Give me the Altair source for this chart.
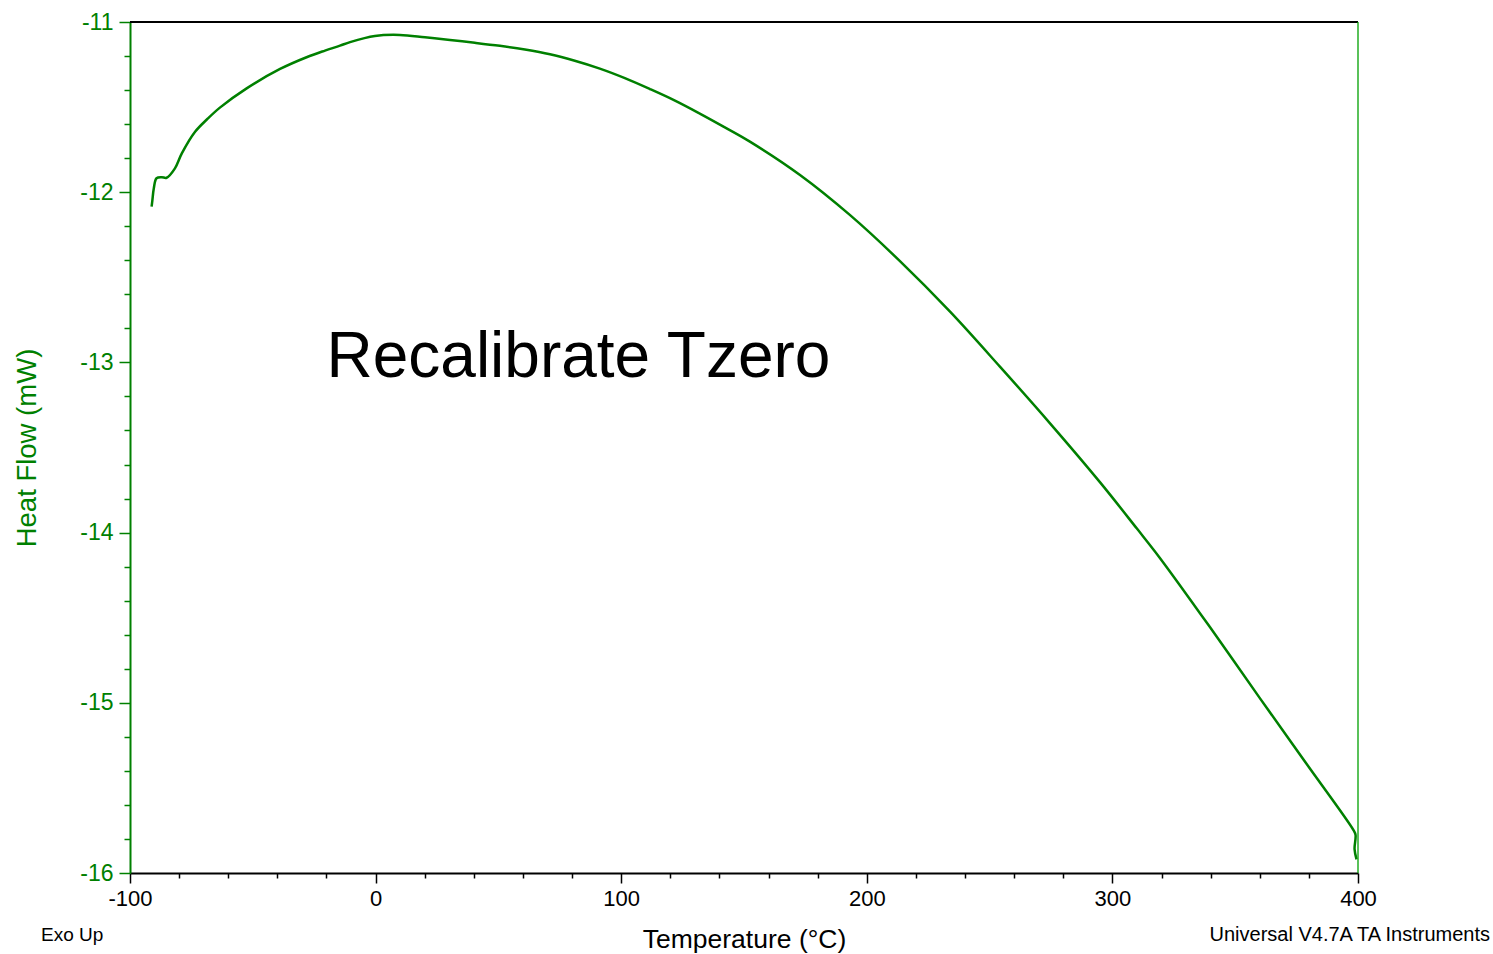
import altair as alt
import pandas as pd

# DSC heat-flow trace: temperature (°C) and heat flow (mW)
temperature = [
    -91.2, -90.9, -90.3, -89.2, -87.1, -85.1, -81.7, -78.9, -73.5, -68.5,
    -63.4, -52.5, -38.9, -28.1, -20.6, -14.5, -10.4, -0.3, 9.9, 20.1,
    30.3, 40.4, 50.6, 60.8, 71.0, 81.1, 91.3, 101.5, 111.7, 121.9,
    132.0, 142.2, 152.4, 172.8, 193.2, 213.5, 233.9, 254.2, 274.6, 295.0,
    309.9, 319.4, 339.7, 360.1, 379.1, 398.1, 399.0, 398.6, 399.4,
]
heat_flow = [
    -12.085, -12.05, -11.977, -11.918, -11.912, -11.915, -11.86, -11.772, -11.645, -11.57,
    -11.503, -11.39, -11.276, -11.207, -11.168, -11.139, -11.118, -11.082, -11.076, -11.090,
    -11.106, -11.122, -11.140, -11.162, -11.190, -11.228, -11.274, -11.330, -11.394, -11.462,
    -11.538, -11.619, -11.703, -11.899, -12.135, -12.405, -12.702, -13.025, -13.358, -13.705,
    -13.975, -14.15, -14.555, -14.974, -15.36, -15.747, -15.776, -15.86, -15.92,
]

x_ticks = list(range(-100, 401, 20))
y_ticks = [round(-16 + 0.2 * i, 1) for i in range(26)]

GREEN = "#008000"
FONT = "Liberation Sans"

df = pd.DataFrame({"T": temperature, "HF": heat_flow, "i": range(len(temperature))})

x_scale = alt.Scale(domain=[-100, 400], nice=False, zero=False)
y_scale = alt.Scale(domain=[-16, -11], nice=False, zero=False)

x_axis = alt.Axis(
    values=x_ticks, tickCount=100,
    title="Temperature (°C)",
    titleFontSize=26.5, titleFont=FONT, titleFontWeight="normal", titleColor="black",
    titleX=614, titleY=74, titleAlign="center", titleBaseline="alphabetic",
    labelExpr="datum.value % 100 === 0 ? '' + datum.value : ''",
    labelFontSize=22, labelFont=FONT, labelColor="black", labelPadding=5,
    labelFlush=False, labelOverlap=False,
    tickSize={"condition": {"test": "datum.value % 100 === 0", "value": 10}, "value": 5},
    tickColor="black", tickWidth=1.5,
    domainColor="black", domainWidth=2, grid=False,
)

y_axis = alt.Axis(
    values=y_ticks, tickCount=100,
    title="Heat Flow (mW)",
    titleFontSize=27.5, titleFont=FONT, titleFontWeight="normal", titleColor=GREEN,
    titleX=-103, titleY=425.5, titleAngle=270, titleAlign="center", titleBaseline="middle",
    labelExpr="abs(datum.value - round(datum.value)) < 0.001 ? '' + round(datum.value) : ''",
    labelFontSize=23, labelFont=FONT, labelColor=GREEN, labelPadding=6,
    labelFlush=False, labelOverlap=False,
    tickSize={"condition": {"test": "abs(datum.value - round(datum.value)) < 0.001", "value": 11}, "value": 6},
    tickColor=GREEN, tickWidth=1.5,
    domainColor=GREEN, domainWidth=2, grid=False,
)

curve = alt.Chart(df).mark_line(
    color=GREEN, strokeWidth=2.5, interpolate="catmull-rom"
).encode(
    x=alt.X("T:Q", scale=x_scale, axis=x_axis),
    y=alt.Y("HF:Q", scale=y_scale, axis=y_axis),
    order="i:O",
)

# frame: black top edge, green right edge at the end temperature
top_edge = alt.Chart().mark_rule(color="black", strokeWidth=2).encode(
    x=alt.datum(-100), x2=alt.datum(400), y=alt.datum(-11)
)
right_edge = alt.Chart().mark_rule(color="#00a000", strokeWidth=1.3).encode(
    x=alt.datum(400), y=alt.datum(-11), y2=alt.datum(-16)
)

note = alt.Chart().mark_text(
    text="Recalibrate Tzero", fontSize=64, font=FONT, color="black",
    align="left", baseline="alphabetic",
).encode(x=alt.datum(-20.0), y=alt.datum(-13.086))

exo = alt.Chart().mark_text(
    text="Exo Up", fontSize=19, font=FONT, color="black",
    align="left", baseline="alphabetic",
).encode(x=alt.value(-89), y=alt.value(919))

brand = alt.Chart().mark_text(
    text="Universal V4.7A TA Instruments", fontSize=20, font=FONT, color="black",
    align="right", baseline="alphabetic",
).encode(x=alt.value(1360), y=alt.value(919))

chart = alt.layer(curve, top_edge, right_edge, note, exo, brand).properties(
    width=1228, height=851,
    autosize=alt.AutoSizeParams(type="none"),
    padding={"left": 130, "top": 22, "right": 135, "bottom": 81},
    background="white",
).configure_view(stroke=None)

chart.save("out.html", embed_options={"renderer": "svg", "actions": False})
